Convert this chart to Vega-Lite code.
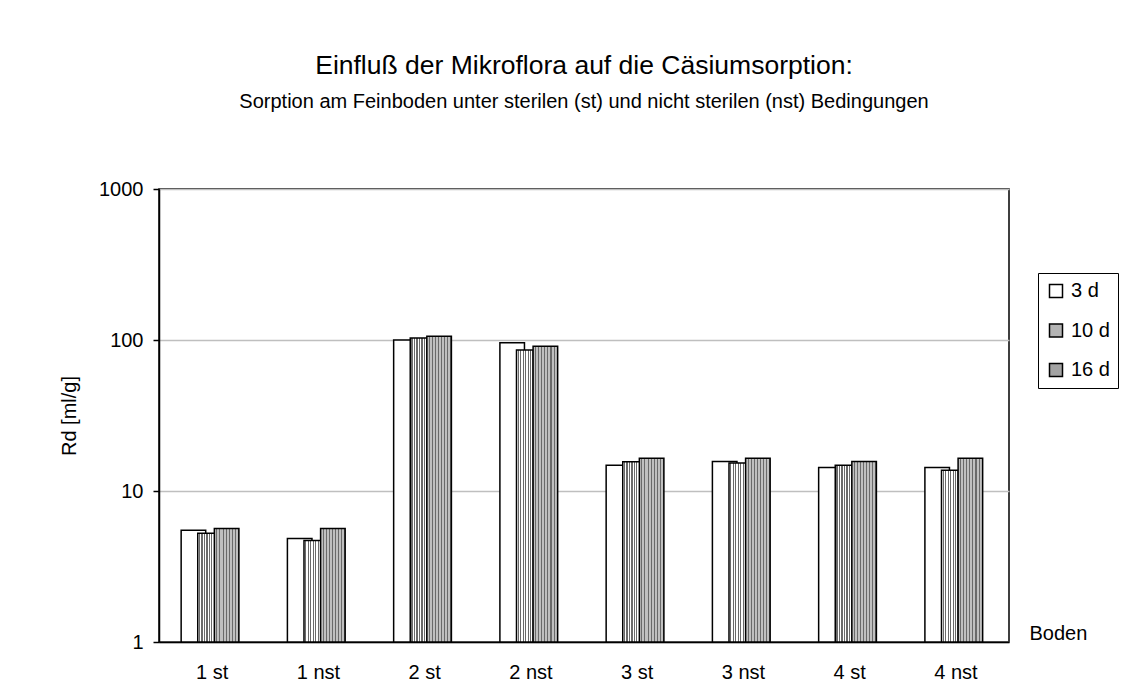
{
  "$schema": "https://vega.github.io/schema/vega-lite/v6.json",
  "width": 850,
  "height": 453,
  "autosize": {"type": "none"},
  "padding": {"left": 159, "top": 189, "right": 128, "bottom": 57},
  "background": "white",
  "config": {
    "font": "Liberation Sans",
    "view": {"stroke": "black", "strokeWidth": 1.5},
    "axis": {"labelColor": "black", "titleColor": "black", "labelFont": "Liberation Sans", "titleFont": "Liberation Sans"}
  },
  "title": {
    "text": "Einfluß der Mikroflora auf die Cäsiumsorption:",
    "subtitle": "Sorption am Feinboden unter sterilen (st) und nicht sterilen (nst) Bedingungen",
    "fontSize": 26.5,
    "fontWeight": "normal",
    "subtitleFontSize": 20,
    "subtitleColor": "black",
    "color": "black",
    "anchor": "middle",
    "offset": 67,
    "subtitlePadding": 13
  },
  "data": {
    "values": [
      {"Boden": "1 st", "Zeit": "3 d", "Rd": 5.5},
      {"Boden": "1 st", "Zeit": "10 d", "Rd": 5.25},
      {"Boden": "1 st", "Zeit": "16 d", "Rd": 5.65},
      {"Boden": "1 nst", "Zeit": "3 d", "Rd": 4.85},
      {"Boden": "1 nst", "Zeit": "10 d", "Rd": 4.7},
      {"Boden": "1 nst", "Zeit": "16 d", "Rd": 5.65},
      {"Boden": "2 st", "Zeit": "3 d", "Rd": 100},
      {"Boden": "2 st", "Zeit": "10 d", "Rd": 103},
      {"Boden": "2 st", "Zeit": "16 d", "Rd": 106},
      {"Boden": "2 nst", "Zeit": "3 d", "Rd": 96},
      {"Boden": "2 nst", "Zeit": "10 d", "Rd": 86},
      {"Boden": "2 nst", "Zeit": "16 d", "Rd": 91},
      {"Boden": "3 st", "Zeit": "3 d", "Rd": 14.8},
      {"Boden": "3 st", "Zeit": "10 d", "Rd": 15.6},
      {"Boden": "3 st", "Zeit": "16 d", "Rd": 16.5},
      {"Boden": "3 nst", "Zeit": "3 d", "Rd": 15.7},
      {"Boden": "3 nst", "Zeit": "10 d", "Rd": 15.3},
      {"Boden": "3 nst", "Zeit": "16 d", "Rd": 16.5},
      {"Boden": "4 st", "Zeit": "3 d", "Rd": 14.3},
      {"Boden": "4 st", "Zeit": "10 d", "Rd": 14.8},
      {"Boden": "4 st", "Zeit": "16 d", "Rd": 15.7},
      {"Boden": "4 nst", "Zeit": "3 d", "Rd": 14.3},
      {"Boden": "4 nst", "Zeit": "10 d", "Rd": 13.7},
      {"Boden": "4 nst", "Zeit": "16 d", "Rd": 16.5}
    ]
  },
  "encoding": {
    "x": {
      "field": "Boden",
      "type": "nominal",
      "sort": null,
      "scale": {"paddingInner": 0.319, "paddingOuter": 0.1595},
      "axis": {
        "title": "Boden",
        "titleFontSize": 20,
        "titleFontWeight": "normal",
        "titleX": 870,
        "titleY": -3,
        "titleAlign": "left",
        "titleBaseline": "alphabetic",
        "titleAnchor": null,
        "labelAngle": 0,
        "labelFontSize": 20,
        "labelPadding": 20,
        "ticks": false,
        "tickSize": 0,
        "domainColor": "black",
        "domainWidth": 1.5
      }
    },
    "xOffset": {"field": "Zeit", "type": "nominal", "scale": {"domain": ["3 d", "10 d", "16 d"], "paddingInner": 0, "paddingOuter": 0.68, "align": 1}},
    "y": {
      "field": "Rd",
      "type": "quantitative",
      "scale": {"type": "log", "domain": [1, 1000], "nice": false},
      "axis": {
        "title": "Rd [ml/g]",
        "titleFontSize": 20,
        "titleFontWeight": "normal",
        "titlePadding": 19,
        "values": [1, 10, 100, 1000],
        "format": "d",
        "labelFontSize": 20,
        "labelPadding": 10,
        "tickSize": 6,
        "tickColor": "black",
        "tickWidth": 1.5,
        "domainColor": "black",
        "domainWidth": 1.5,
        "gridColor": "#bfbfbf",
        "gridWidth": 1.5
      }
    },
    "y2": {"datum": 1}
  },
  "layer": [
    {
      "transform": [{"filter": "datum.Zeit === '3 d'"}],
      "mark": {"type": "bar", "stroke": "black", "strokeWidth": 1.5, "width": {"band": 1.48}, "fill": "white"}
    },
    {
      "transform": [{"filter": "datum.Zeit === '10 d'"}],
      "mark": {"type": "bar", "stroke": "black", "strokeWidth": 1.5, "width": {"band": 1.48},
        "fill": {"gradient": "linear", "x1": 0, "y1": 0, "x2": 1, "y2": 0, "stops": [
            {"offset": 0, "color": "#ffffff"}, {"offset": 0.05, "color": "#ffffff"}, {"offset": 0.05, "color": "#6a6a6a"}, {"offset": 0.1, "color": "#6a6a6a"},
            {"offset": 0.1, "color": "#ffffff"}, {"offset": 0.15, "color": "#ffffff"}, {"offset": 0.15, "color": "#6a6a6a"}, {"offset": 0.2, "color": "#6a6a6a"},
            {"offset": 0.2, "color": "#ffffff"}, {"offset": 0.25, "color": "#ffffff"}, {"offset": 0.25, "color": "#6a6a6a"}, {"offset": 0.3, "color": "#6a6a6a"},
            {"offset": 0.3, "color": "#ffffff"}, {"offset": 0.35, "color": "#ffffff"}, {"offset": 0.35, "color": "#6a6a6a"}, {"offset": 0.4, "color": "#6a6a6a"},
            {"offset": 0.4, "color": "#ffffff"}, {"offset": 0.45, "color": "#ffffff"}, {"offset": 0.45, "color": "#6a6a6a"}, {"offset": 0.5, "color": "#6a6a6a"},
            {"offset": 0.5, "color": "#ffffff"}, {"offset": 0.55, "color": "#ffffff"}, {"offset": 0.55, "color": "#6a6a6a"}, {"offset": 0.6, "color": "#6a6a6a"},
            {"offset": 0.6, "color": "#ffffff"}, {"offset": 0.65, "color": "#ffffff"}, {"offset": 0.65, "color": "#6a6a6a"}, {"offset": 0.7, "color": "#6a6a6a"},
            {"offset": 0.7, "color": "#ffffff"}, {"offset": 0.75, "color": "#ffffff"}, {"offset": 0.75, "color": "#6a6a6a"}, {"offset": 0.8, "color": "#6a6a6a"},
            {"offset": 0.8, "color": "#ffffff"}, {"offset": 0.85, "color": "#ffffff"}, {"offset": 0.85, "color": "#6a6a6a"}, {"offset": 0.9, "color": "#6a6a6a"},
            {"offset": 0.9, "color": "#ffffff"}, {"offset": 0.95, "color": "#ffffff"}, {"offset": 0.95, "color": "#6a6a6a"}, {"offset": 1, "color": "#6a6a6a"}
          ]}
      }
    },
    {
      "transform": [{"filter": "datum.Zeit === '16 d'"}],
      "mark": {"type": "bar", "stroke": "black", "strokeWidth": 1.5, "width": {"band": 1.48},
        "fill": {"gradient": "linear", "x1": 0, "y1": 0, "x2": 1, "y2": 0, "stops": [
            {"offset": 0, "color": "#c0c0c0"}, {"offset": 0.083, "color": "#c0c0c0"}, {"offset": 0.083, "color": "#6a6a6a"}, {"offset": 0.125, "color": "#6a6a6a"},
            {"offset": 0.125, "color": "#c0c0c0"}, {"offset": 0.208, "color": "#c0c0c0"}, {"offset": 0.208, "color": "#6a6a6a"}, {"offset": 0.25, "color": "#6a6a6a"},
            {"offset": 0.25, "color": "#c0c0c0"}, {"offset": 0.333, "color": "#c0c0c0"}, {"offset": 0.333, "color": "#6a6a6a"}, {"offset": 0.375, "color": "#6a6a6a"},
            {"offset": 0.375, "color": "#c0c0c0"}, {"offset": 0.458, "color": "#c0c0c0"}, {"offset": 0.458, "color": "#6a6a6a"}, {"offset": 0.5, "color": "#6a6a6a"},
            {"offset": 0.5, "color": "#c0c0c0"}, {"offset": 0.583, "color": "#c0c0c0"}, {"offset": 0.583, "color": "#6a6a6a"}, {"offset": 0.625, "color": "#6a6a6a"},
            {"offset": 0.625, "color": "#c0c0c0"}, {"offset": 0.708, "color": "#c0c0c0"}, {"offset": 0.708, "color": "#6a6a6a"}, {"offset": 0.75, "color": "#6a6a6a"},
            {"offset": 0.75, "color": "#c0c0c0"}, {"offset": 0.833, "color": "#c0c0c0"}, {"offset": 0.833, "color": "#6a6a6a"}, {"offset": 0.875, "color": "#6a6a6a"},
            {"offset": 0.875, "color": "#c0c0c0"}, {"offset": 0.958, "color": "#c0c0c0"}, {"offset": 0.958, "color": "#6a6a6a"}, {"offset": 1, "color": "#6a6a6a"}
          ]}
      }
    },
    {
      "transform": [{"filter": "false"}],
      "mark": {"type": "bar", "stroke": "black", "strokeWidth": 1.5, "width": {"band": 1.48}},
      "encoding": {
        "fill": {
          "field": "Zeit",
          "type": "nominal",
          "scale": {"domain": ["3 d", "10 d", "16 d"], "range": ["#ffffff", "#b4b4b4", "#a3a3a3"]},
          "legend": {
            "title": null,
            "orient": "none",
            "legendX": 879,
            "legendY": 84,
            "padding": 8,
            "strokeColor": "black",
            "fillColor": "white",
            "labelFontSize": 20,
            "labelColor": "black",
            "labelOffset": 5,
            "symbolType": "square",
            "symbolSize": 169,
            "symbolStrokeColor": "black",
            "symbolStrokeWidth": 1.5,
            "symbolOpacity": 1,
            "rowPadding": 19.5
          }
        }
      }
    }
  ]
}
